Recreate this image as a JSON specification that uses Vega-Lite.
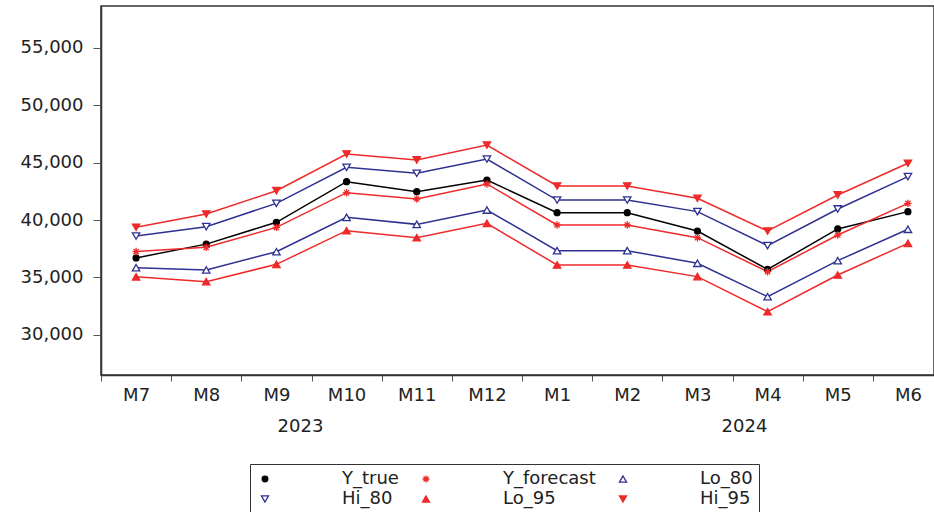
{
  "$schema": "https://vega.github.io/schema/vega-lite/v6.json",
  "width": 833,
  "height": 369,
  "autosize": {"type": "none"},
  "padding": {"left": 101, "top": 6, "right": 0, "bottom": 137},
  "background": "white",
  "config": {
    "font": "DejaVu Sans",
    "view": {"stroke": "#333333", "strokeWidth": 1.5},
    "axis": {
      "labelFont": "DejaVu Sans",
      "labelFontSize": 18,
      "labelColor": "#222222",
      "domainColor": "#333333",
      "domainWidth": 1.5,
      "tickColor": "#555555",
      "grid": false,
      "title": null
    }
  },
  "datasets": {
    "main": [
      {"month": "M7", "series": "Y_true", "value": 36700},
      {"month": "M7", "series": "Y_forecast", "value": 37250},
      {"month": "M7", "series": "Lo_80", "value": 35850},
      {"month": "M7", "series": "Hi_80", "value": 38600},
      {"month": "M7", "series": "Lo_95", "value": 35050},
      {"month": "M7", "series": "Hi_95", "value": 39370},
      {"month": "M8", "series": "Y_true", "value": 37900},
      {"month": "M8", "series": "Y_forecast", "value": 37620},
      {"month": "M8", "series": "Lo_80", "value": 35650},
      {"month": "M8", "series": "Hi_80", "value": 39420},
      {"month": "M8", "series": "Lo_95", "value": 34630},
      {"month": "M8", "series": "Hi_95", "value": 40520},
      {"month": "M9", "series": "Y_true", "value": 39800},
      {"month": "M9", "series": "Y_forecast", "value": 39360},
      {"month": "M9", "series": "Lo_80", "value": 37240},
      {"month": "M9", "series": "Hi_80", "value": 41450},
      {"month": "M9", "series": "Lo_95", "value": 36140},
      {"month": "M9", "series": "Hi_95", "value": 42550},
      {"month": "M10", "series": "Y_true", "value": 43340},
      {"month": "M10", "series": "Y_forecast", "value": 42380},
      {"month": "M10", "series": "Lo_80", "value": 40230},
      {"month": "M10", "series": "Hi_80", "value": 44590},
      {"month": "M10", "series": "Lo_95", "value": 39070},
      {"month": "M10", "series": "Hi_95", "value": 45750},
      {"month": "M11", "series": "Y_true", "value": 42470},
      {"month": "M11", "series": "Y_forecast", "value": 41830},
      {"month": "M11", "series": "Lo_80", "value": 39620},
      {"month": "M11", "series": "Hi_80", "value": 44070},
      {"month": "M11", "series": "Lo_95", "value": 38460},
      {"month": "M11", "series": "Hi_95", "value": 45230},
      {"month": "M12", "series": "Y_true", "value": 43480},
      {"month": "M12", "series": "Y_forecast", "value": 43140},
      {"month": "M12", "series": "Lo_80", "value": 40870},
      {"month": "M12", "series": "Hi_80", "value": 45310},
      {"month": "M12", "series": "Lo_95", "value": 39710},
      {"month": "M12", "series": "Hi_95", "value": 46530},
      {"month": "M1", "series": "Y_true", "value": 40640},
      {"month": "M1", "series": "Y_forecast", "value": 39570},
      {"month": "M1", "series": "Lo_80", "value": 37330},
      {"month": "M1", "series": "Hi_80", "value": 41740},
      {"month": "M1", "series": "Lo_95", "value": 36080},
      {"month": "M1", "series": "Hi_95", "value": 42960},
      {"month": "M2", "series": "Y_true", "value": 40640},
      {"month": "M2", "series": "Y_forecast", "value": 39570},
      {"month": "M2", "series": "Lo_80", "value": 37330},
      {"month": "M2", "series": "Hi_80", "value": 41740},
      {"month": "M2", "series": "Lo_95", "value": 36080},
      {"month": "M2", "series": "Hi_95", "value": 42960},
      {"month": "M3", "series": "Y_true", "value": 39040},
      {"month": "M3", "series": "Y_forecast", "value": 38460},
      {"month": "M3", "series": "Lo_80", "value": 36230},
      {"month": "M3", "series": "Hi_80", "value": 40730},
      {"month": "M3", "series": "Lo_95", "value": 35070},
      {"month": "M3", "series": "Hi_95", "value": 41890},
      {"month": "M4", "series": "Y_true", "value": 35700},
      {"month": "M4", "series": "Y_forecast", "value": 35500},
      {"month": "M4", "series": "Lo_80", "value": 33320},
      {"month": "M4", "series": "Hi_80", "value": 37770},
      {"month": "M4", "series": "Lo_95", "value": 32010},
      {"month": "M4", "series": "Hi_95", "value": 39040},
      {"month": "M5", "series": "Y_true", "value": 39220},
      {"month": "M5", "series": "Y_forecast", "value": 38690},
      {"month": "M5", "series": "Lo_80", "value": 36460},
      {"month": "M5", "series": "Hi_80", "value": 40960},
      {"month": "M5", "series": "Lo_95", "value": 35210},
      {"month": "M5", "series": "Hi_95", "value": 42180},
      {"month": "M6", "series": "Y_true", "value": 40730},
      {"month": "M6", "series": "Y_forecast", "value": 41450},
      {"month": "M6", "series": "Lo_80", "value": 39190},
      {"month": "M6", "series": "Hi_80", "value": 43780},
      {"month": "M6", "series": "Lo_95", "value": 37970},
      {"month": "M6", "series": "Hi_95", "value": 44940}
    ]
  },
  "layer": [
    {
      "data": {"name": "main"},
      "mark": {"type": "line", "strokeWidth": 1.5},
      "encoding": {
        "x": {
          "field": "month", "type": "ordinal", "bandPosition": 0.5,
          "sort": ["M7","M8","M9","M10","M11","M12","M1","M2","M3","M4","M5","M6"],
          "scale": {"type": "band", "range": [0, 842], "paddingInner": 0, "paddingOuter": 0},
          "axis": {"labelAngle": 0, "tickBand": "extent", "tickSize": 6, "labelPadding": 5, "labelAlign": "center"}
        },
        "y": {
          "field": "value", "type": "quantitative",
          "scale": {"domain": [26500, 58640], "nice": false, "zero": false},
          "axis": {"values": [30000, 35000, 40000, 45000, 50000, 55000], "format": ",.0f", "tickSize": 8, "labelPadding": 10}
        },
        "color": {
          "field": "series", "type": "nominal", "legend": null,
          "scale": {
            "domain": ["Hi_95","Lo_95","Hi_80","Lo_80","Y_forecast","Y_true"],
            "range": ["#ee2a2a","#ee2a2a","#2e3192","#2e3192","#ee2a2a","#000000"]
          }
        }
      }
    },
    {
      "data": {"name": "main"},
      "mark": {"type": "point", "strokeWidth": 1.3, "opacity": 1, "size": 55},
      "encoding": {
        "x": {
          "field": "month", "type": "ordinal", "bandPosition": 0.5,
          "sort": ["M7","M8","M9","M10","M11","M12","M1","M2","M3","M4","M5","M6"]
        },
        "y": {"field": "value", "type": "quantitative"},
        "stroke": {
          "field": "series", "type": "nominal", "title": null,
          "scale": {
            "domain": ["Y_true","Y_forecast","Lo_80","Hi_80","Lo_95","Hi_95"],
            "range": ["#000000","#ee2a2a","#2e3192","#2e3192","#ee2a2a","#ee2a2a"]
          },
          "legend": {
            "orient": "none",
            "legendX": 149,
            "legendY": 458,
            "direction": "horizontal",
            "columns": 3,
            "title": null,
            "symbolSize": 50,
            "symbolStrokeWidth": 1.3,
            "rowPadding": 2,
            "columnPadding": 18,
            "labelOffset": 68,
            "padding": 6,
            "strokeColor": "#333333",
            "labelFont": "DejaVu Sans",
            "labelFontSize": 18,
            "labelColor": "#222222"
          }
        },
        "fill": {
          "field": "series", "type": "nominal", "title": null,
          "scale": {
            "domain": ["Y_true","Y_forecast","Lo_80","Hi_80","Lo_95","Hi_95"],
            "range": ["#000000","#ee2a2a","#ffffff","#ffffff","#ee2a2a","#ee2a2a"]
          }
        },
        "shape": {
          "field": "series", "type": "nominal", "title": null,
          "scale": {
            "domain": ["Y_true","Y_forecast","Lo_80","Hi_80","Lo_95","Hi_95"],
            "range": ["M0.8,0A0.8,0.8,0,1,1,-0.8,0A0.8,0.8,0,1,1,0.8,0Z","M0,-1V1M-1,0H1M-0.7,-0.7L0.7,0.7M-0.7,0.7L0.7,-0.7","triangle-up","triangle-down","triangle-up","triangle-down"]
          }
        }
      }
    },
    {
      "data": {"values": [{"year": "2023"}]},
      "mark": {"type": "text", "y": "height", "dy": 52, "dx": -11, "fontSize": 18, "font": "DejaVu Sans", "color": "#222222", "baseline": "middle", "align": "center"},
      "encoding": {
        "x": {"datum": "M10", "type": "ordinal", "bandPosition": 0},
        "text": {"field": "year"}
      }
    },
    {
      "data": {"values": [{"year": "2024"}]},
      "mark": {"type": "text", "y": "height", "dy": 52, "dx": 12, "fontSize": 18, "font": "DejaVu Sans", "color": "#222222", "baseline": "middle", "align": "center"},
      "encoding": {
        "x": {"datum": "M4", "type": "ordinal", "bandPosition": 0},
        "text": {"field": "year"}
      }
    }
  ]
}
